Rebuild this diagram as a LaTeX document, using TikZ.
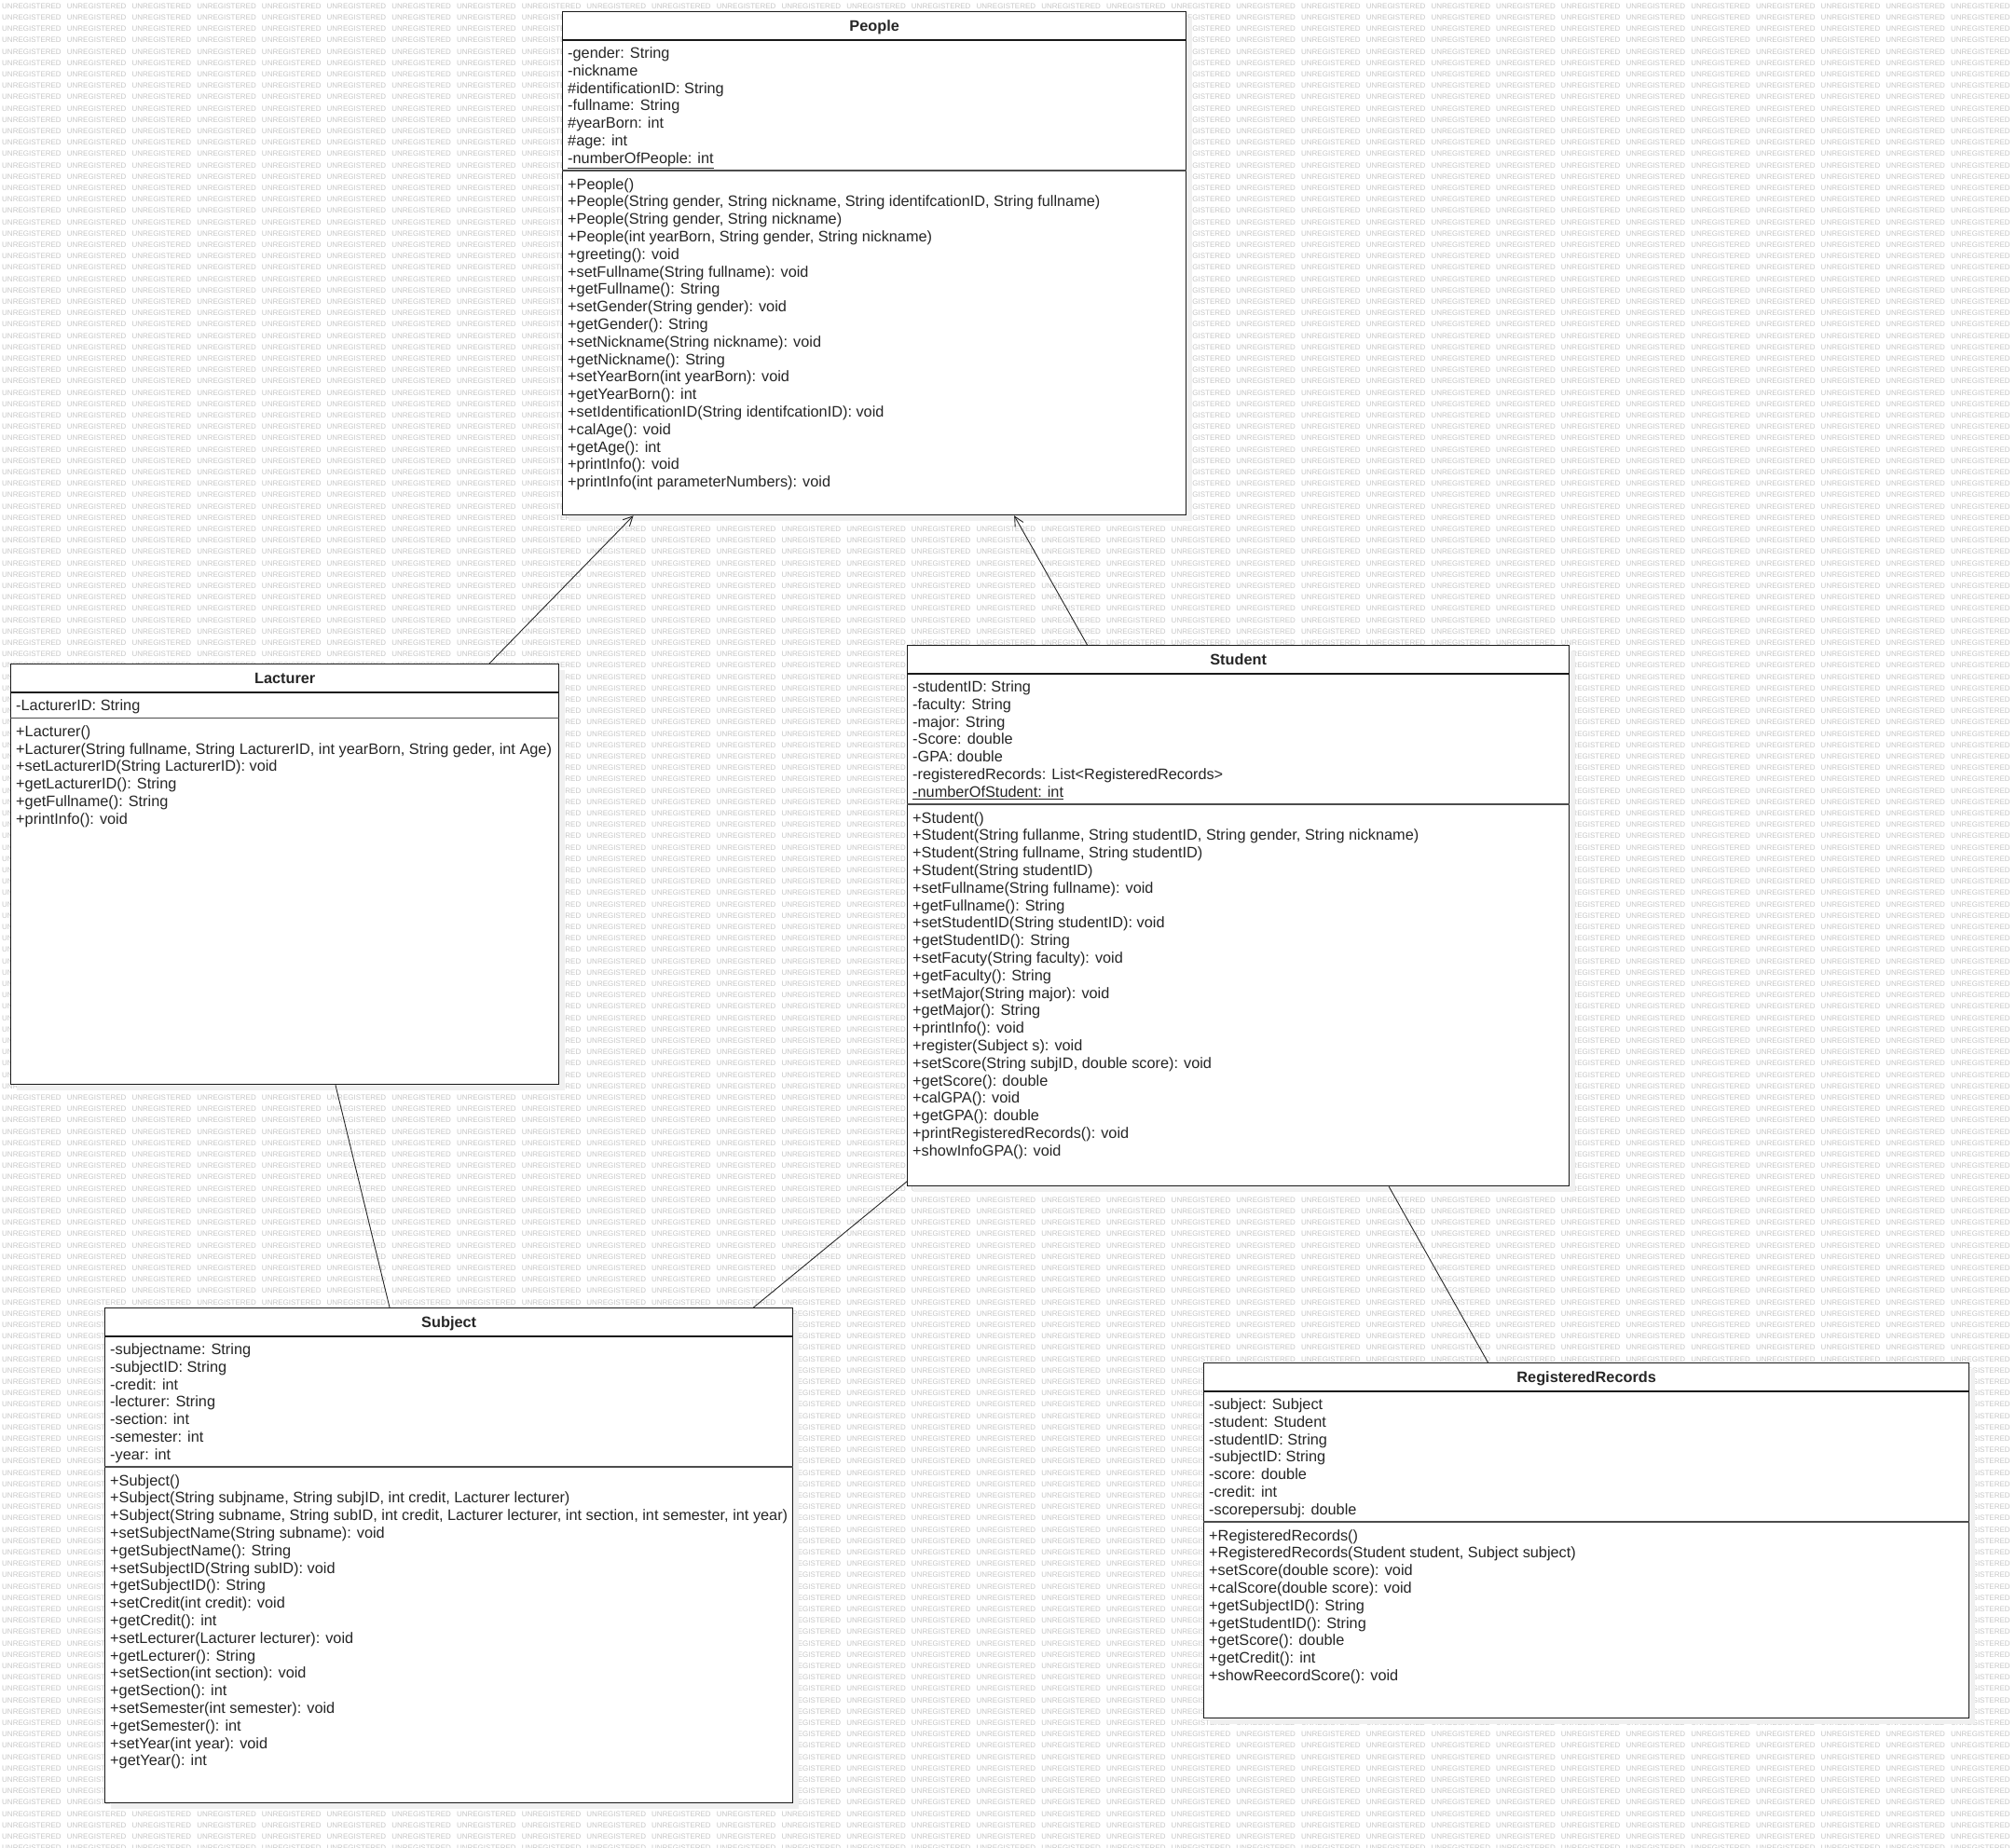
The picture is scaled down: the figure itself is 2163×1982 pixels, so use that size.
\documentclass[tikz,border=0pt]{standalone}
\usepackage{fontspec}
\setmainfont{Liberation Sans}
\usetikzlibrary{arrows.meta, positioning, shadows}

% background watermark row
\def\wmword{\makebox[69.7pt][l]{UNREGISTERED}}
\def\wmfour{\wmword\wmword\wmword\wmword}
\def\wmrow{\wmfour\wmfour\wmfour\wmfour\wmfour\wmfour\wmfour\wmfour}

\tikzset{
    classbox/.style = {rectangle, draw=black!90, line width=1.3pt, fill=white, anchor=north west, inner sep=0pt,
        drop shadow={shadow xshift=6pt, shadow yshift=-6pt, fill=black!6, opacity=1}},
    classtitle/.style = {anchor=base, inner sep=0pt, text=black!85, font=\fontsize{16.3}{18.8}\selectfont\bfseries},
    members/.style = {anchor=north west, align=left, inner sep=0pt, text=black!85, font=\fontsize{16.3}{18.8}\selectfont},
    titleline/.style = {draw=black!90, line width=1.3pt},
    sepline/.style = {draw=black!70, line width=1.6pt},
    watermark/.style = {anchor=west, inner sep=0pt, text=black!22, font=\fontsize{8}{8}\selectfont},
    inherit/.style = {draw=black!85, line width=0.9pt, -{Straight Barb[length=10pt, width=10pt]}},
    assoc/.style = {draw=black!85, line width=0.9pt}
}

\begin{document}
\begin{tikzpicture}[x=1pt, y=-1pt]

\fill [white] (0,0) rectangle (2163,1982);
\useasboundingbox (0,0) rectangle (2163,1982);

% watermark
\foreach \r in {0,...,162}
    \node (wm\r) [watermark] at (2, 6.5+12.2*\r) {\wmrow};

% classes
\node (people) [classbox, minimum width=669pt, minimum height=540pt] at (603,12) {};
\node (lacturer) [classbox, minimum width=588pt, minimum height=451pt] at (11,712) {};
\node (student) [classbox, minimum width=710pt, minimum height=580pt] at (973,692) {};
\node (subject) [classbox, minimum width=738pt, minimum height=531pt] at (112,1403) {};
\node (records) [classbox, minimum width=821pt, minimum height=381pt] at (1291,1462) {};

% People
\node (peopletitle) [classtitle] at ([yshift=-21.2pt]people.north) {People};
\draw [titleline] ([yshift=-31pt]people.north west) -- ([yshift=-31pt]people.north east);
\draw [sepline] ([yshift=-171.1pt]people.north west) -- ([yshift=-171.1pt]people.north east);
\node (peopleattr) [members] at ([xshift=6pt, yshift=-37.2pt]people.north west) {\strut-gender: String\\-nickname\\\#identificationID: String\\-fullname: String\\\#yearBorn: int\\\#age: int\\\underline{-numberOfPeople: int}};
\node (peopleops) [members] at ([xshift=6pt, yshift=-177.8pt]people.north west) {\strut+People()\\
+People(String gender, String nickname, String identifcationID, String fullname)\\
+People(String gender, String nickname)\\
+People(int yearBorn, String gender, String nickname)\\
+greeting(): void\\
+setFullname(String fullname): void\\
+getFullname(): String\\
+setGender(String gender): void\\
+getGender(): String\\
+setNickname(String nickname): void\\
+getNickname(): String\\
+setYearBorn(int yearBorn): void\\
+getYearBorn(): int\\
+setIdentificationID(String identifcationID): void\\
+calAge(): void\\
+getAge(): int\\
+printInfo(): void\\
+printInfo(int parameterNumbers): void};

% Lacturer
\node (lacturertitle) [classtitle] at ([yshift=-21.2pt]lacturer.north) {Lacturer};
\draw [titleline] ([yshift=-31pt]lacturer.north west) -- ([yshift=-31pt]lacturer.north east);
\draw [sepline] ([yshift=-58.3pt]lacturer.north west) -- ([yshift=-58.3pt]lacturer.north east);
\node (lacturerattr) [members] at ([xshift=6pt, yshift=-37.2pt]lacturer.north west) {\strut-LacturerID: String};
\node (lacturerops) [members] at ([xshift=6pt, yshift=-65pt]lacturer.north west) {\strut+Lacturer()\\
+Lacturer(String fullname, String LacturerID, int yearBorn, String geder, int Age)\\
+setLacturerID(String LacturerID): void\\
+getLacturerID(): String\\
+getFullname(): String\\
+printInfo(): void};

% Student
\node (studenttitle) [classtitle] at ([yshift=-21.2pt]student.north) {Student};
\draw [titleline] ([yshift=-31pt]student.north west) -- ([yshift=-31pt]student.north east);
\draw [sepline] ([yshift=-171.1pt]student.north west) -- ([yshift=-171.1pt]student.north east);
\node (studentattr) [members] at ([xshift=6pt, yshift=-37.2pt]student.north west) {\strut-studentID: String\\-faculty: String\\-major: String\\-Score: double\\-GPA: double\\-registeredRecords: List<RegisteredRecords>\\\underline{-numberOfStudent: int}};
\node (studentops) [members] at ([xshift=6pt, yshift=-177.8pt]student.north west) {\strut+Student()\\
+Student(String fullanme, String studentID, String gender, String nickname)\\
+Student(String fullname, String studentID)\\
+Student(String studentID)\\
+setFullname(String fullname): void\\
+getFullname(): String\\
+setStudentID(String studentID): void\\
+getStudentID(): String\\
+setFacuty(String faculty): void\\
+getFaculty(): String\\
+setMajor(String major): void\\
+getMajor(): String\\
+printInfo(): void\\
+register(Subject s): void\\
+setScore(String subjID, double score): void\\
+getScore(): double\\
+calGPA(): void\\
+getGPA(): double\\
+printRegisteredRecords(): void\\
+showInfoGPA(): void};

% Subject
\node (subjecttitle) [classtitle] at ([yshift=-21.2pt]subject.north) {Subject};
\draw [titleline] ([yshift=-31pt]subject.north west) -- ([yshift=-31pt]subject.north east);
\draw [sepline] ([yshift=-171.1pt]subject.north west) -- ([yshift=-171.1pt]subject.north east);
\node (subjectattr) [members] at ([xshift=6pt, yshift=-37.2pt]subject.north west) {\strut-subjectname: String\\-subjectID: String\\-credit: int\\-lecturer: String\\-section: int\\-semester: int\\-year: int};
\node (subjectops) [members] at ([xshift=6pt, yshift=-177.8pt]subject.north west) {\strut+Subject()\\
+Subject(String subjname, String subjID, int credit, Lacturer lecturer)\\
+Subject(String subname, String subID, int credit, Lacturer lecturer, int section, int semester, int year)\\
+setSubjectName(String subname): void\\
+getSubjectName(): String\\
+setSubjectID(String subID): void\\
+getSubjectID(): String\\
+setCredit(int credit): void\\
+getCredit(): int\\
+setLecturer(Lacturer lecturer): void\\
+getLecturer(): String\\
+setSection(int section): void\\
+getSection(): int\\
+setSemester(int semester): void\\
+getSemester(): int\\
+setYear(int year): void\\
+getYear(): int};

% RegisteredRecords
\node (recordstitle) [classtitle] at ([yshift=-21.2pt]records.north) {RegisteredRecords};
\draw [titleline] ([yshift=-31pt]records.north west) -- ([yshift=-31pt]records.north east);
\draw [sepline] ([yshift=-171.1pt]records.north west) -- ([yshift=-171.1pt]records.north east);
\node (recordsattr) [members] at ([xshift=6pt, yshift=-37.2pt]records.north west) {\strut-subject: Subject\\-student: Student\\-studentID: String\\-subjectID: String\\-score: double\\-credit: int\\-scorepersubj: double};
\node (recordsops) [members] at ([xshift=6pt, yshift=-177.8pt]records.north west) {\strut+RegisteredRecords()\\
+RegisteredRecords(Student student, Subject subject)\\
+setScore(double score): void\\
+calScore(double score): void\\
+getSubjectID(): String\\
+getStudentID(): String\\
+getScore(): double\\
+getCredit(): int\\
+showReecordScore(): void};

% relations
\draw [inherit] (lacturer) -- (people);
\draw [inherit] (student) -- (people);
\draw [assoc] (lacturer) -- (subject);
\draw [assoc] (student) -- (subject);
\draw [assoc] (student) -- (records);

\end{tikzpicture}
\end{document}
